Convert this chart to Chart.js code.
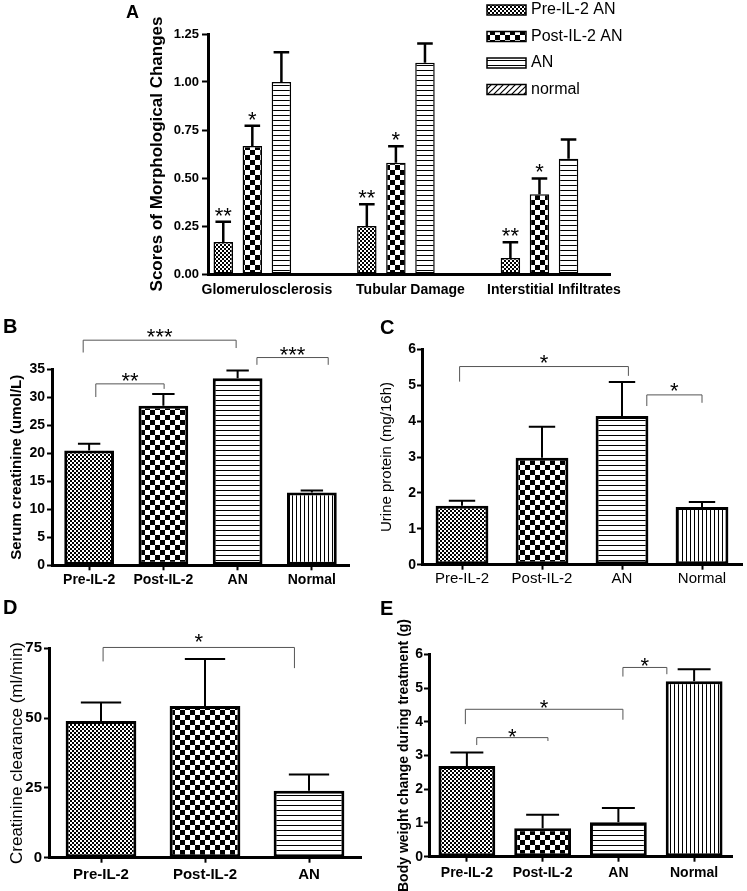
<!DOCTYPE html>
<html>
<head>
<meta charset="utf-8">
<title>IL-2 treatment in adriamycin nephropathy</title>
<script src="https://cdn.jsdelivr.net/npm/chart.js@4.4.1/dist/chart.umd.min.js"></script>
<style>
  html, body { margin: 0; padding: 0; background: #fff; }
  #figure { position: relative; width: 747px; height: 891px; overflow: hidden; }
  #figure canvas { position: absolute; }
  .panel-letter { position: absolute; font: bold 20px 'Liberation Sans', Arial, sans-serif; line-height: 20px; color: #000; }
</style>
</head>
<body>
<div id="figure">
  <canvas id="chartA" width="540" height="305" style="left:120px;top:0"></canvas>
  <canvas id="chartB" width="370" height="300" style="left:0;top:310px"></canvas>
  <canvas id="chartC" width="377" height="300" style="left:370px;top:310px"></canvas>
  <canvas id="chartD" width="370" height="281" style="left:0;top:610px"></canvas>
  <canvas id="chartE" width="377" height="281" style="left:370px;top:610px"></canvas>
  <div class="panel-letter" style="left:126px;top:2px;font-size:18px">A</div>
  <div class="panel-letter" style="left:3px;top:316px">B</div>
  <div class="panel-letter" style="left:380px;top:317px">C</div>
  <div class="panel-letter" style="left:3px;top:597px">D</div>
  <div class="panel-letter" style="left:380px;top:598px">E</div>
</div>
<script>
// ---------- data ----------
// A: morphological scores
const morphGroups = ['Glomerulosclerosis', 'Tubular Damage', 'Interstitial Infiltrates'];
const morphSeries = ['Pre-IL-2 AN', 'Post-IL-2 AN', 'AN', 'normal'];
const morphPre = [0.167, 0.25, 0.083];
const morphPreErr = [0.105, 0.113, 0.082];
const morphPost = [0.667, 0.58, 0.415];
const morphPostErr = [0.105, 0.085, 0.083];
const morphAN = [1.0, 1.1, 0.6];
const morphANErr = [0.155, 0.1, 0.1];
const morphNormal = [0, 0, 0];
const morphPreStars = ['**', '**', '**'];
const morphPostStars = ['*', '*', '*'];

// B-E categories
const groups4 = ['Pre-IL-2', 'Post-IL-2', 'AN', 'Normal'];
const groups3 = ['Pre-IL-2', 'Post-IL-2', 'AN'];

// significance brackets: [from, to, top, left leg end, right leg end, label]
const creatinine = [20.5, 28.5, 33.4, 13.0];
const creatinineErr = [1.2, 2.1, 1.4, 0.35];
const creatinineSig = [
  [-0.08, 1.98, 40.2, 38.0, 38.8, '***'],
  [0.09, 1.01, 32.4, 30.05, 31.5, '**'],
  [2.26, 3.22, 37.1, 35.8, 35.8, '***'],
];

const urineProtein = [1.64, 2.98, 4.14, 1.61];
const urineProteinErr = [0.14, 0.86, 0.95, 0.14];
const urineProteinSig = [
  [-0.03, 2.08, 5.52, 5.10, 5.26, '*'],
  [2.31, 3.0, 4.73, 4.42, 4.51, '*'],
];

const clearance = [49.0, 54.3, 24.0];
const clearanceErr = [6.6, 16.9, 5.8];
const clearanceSig = [
  [0.02, 1.86, 75.3, 70.3, 67.9, '*'],
];

const weightChange = [2.69, 0.84, 1.02, 5.20];
const weightChangeErr = [0.40, 0.40, 0.42, 0.36];
const weightChangeSig = [
  [2.06, 2.64, 5.61, 5.34, 5.41, '*'],
  [-0.02, 2.06, 4.37, 3.93, 4.06, '*'],
  [0.13, 1.07, 3.53, 3.31, 3.43, '*'],
];

// ---------- fills ----------
function makePattern(w, h, draw) {
  const c = document.createElement('canvas');
  c.width = w;
  c.height = h;
  const g = c.getContext('2d');
  g.fillStyle = '#fff';
  g.fillRect(0, 0, w, h);
  g.fillStyle = '#000';
  g.strokeStyle = '#000';
  draw(g);
  return g.createPattern(c, 'repeat');
}

const finePattern = makePattern(4, 4, g => { g.fillRect(0, 0, 2, 2); g.fillRect(2, 2, 2, 2); });
const checkPattern = makePattern(10, 10, g => { g.fillRect(0, 0, 5, 5); g.fillRect(5, 5, 5, 5); });
const hLinePattern = makePattern(4, 5, g => { g.fillRect(0, 0, 4, 1); });
const vLinePattern = makePattern(4, 4, g => { g.fillRect(0, 0, 1, 4); });
const diagPattern = makePattern(6, 6, g => {
  g.lineWidth = 1.2;
  g.beginPath();
  g.moveTo(0, 6); g.lineTo(6, 0);
  g.moveTo(-3, 3); g.lineTo(3, -3);
  g.moveTo(3, 9); g.lineTo(9, 3);
  g.stroke();
});
const groupPatterns = [finePattern, checkPattern, hLinePattern, vLinePattern];

Chart.defaults.font.family = "'Liberation Sans', Arial, sans-serif";
Chart.defaults.color = '#000';

// ---------- plugins ----------
const errorBars = {
  id: 'errorBars',
  afterDatasetsDraw(chart, args, opts) {
    const ctx = chart.ctx;
    const yScale = chart.scales.y;
    chart.data.datasets.forEach((ds, di) => {
      if (!ds.errors) return;
      const meta = chart.getDatasetMeta(di);
      meta.data.forEach((bar, i) => {
        const raw = ds.data[i];
        const val = (raw && typeof raw === 'object') ? raw.y : raw;
        const top = yScale.getPixelForValue(val + ds.errors[i]);
        const half = bar.width * opts.capRatio / 2;
        ctx.save();
        ctx.strokeStyle = '#000';
        ctx.lineWidth = opts.lineWidth;
        ctx.beginPath();
        ctx.moveTo(bar.x, bar.y);
        ctx.lineTo(bar.x, top);
        ctx.moveTo(bar.x - half, top);
        ctx.lineTo(bar.x + half, top);
        ctx.stroke();
        if (ds.stars && ds.stars[i]) {
          ctx.fillStyle = '#000';
          ctx.font = opts.starFont;
          ctx.textAlign = 'center';
          ctx.textBaseline = 'alphabetic';
          ctx.fillText(ds.stars[i], bar.x, top + opts.starShift);
        }
        ctx.restore();
      });
    });
  }
};

const brackets = {
  id: 'brackets',
  afterDraw(chart, args, opts) {
    const {ctx, scales: {x, y}} = chart;
    (opts.items || []).forEach(([from, to, top, leftEnd, rightEnd, text]) => {
      const x1 = x.getPixelForValue(from);
      const x2 = x.getPixelForValue(to);
      const yt = y.getPixelForValue(top);
      ctx.save();
      ctx.strokeStyle = '#555';
      ctx.lineWidth = 1;
      ctx.beginPath();
      ctx.moveTo(x1, y.getPixelForValue(leftEnd));
      ctx.lineTo(x1, yt);
      ctx.lineTo(x2, yt);
      ctx.lineTo(x2, y.getPixelForValue(rightEnd));
      ctx.stroke();
      ctx.fillStyle = '#000';
      ctx.font = opts.font;
      ctx.textAlign = 'center';
      ctx.textBaseline = 'alphabetic';
      ctx.fillText(text, (x1 + x2) / 2, yt + opts.textShift);
      ctx.restore();
    });
  }
};

const patternLegend = {
  id: 'patternLegend',
  afterDraw(chart, args, opts) {
    const ctx = chart.ctx;
    ctx.save();
    ctx.font = opts.font;
    ctx.textBaseline = 'middle';
    chart.data.datasets.forEach((ds, i) => {
      const cy = opts.top + i * opts.rowGap;
      ctx.fillStyle = ds.backgroundColor;
      ctx.fillRect(opts.left, cy - opts.boxH / 2, opts.boxW, opts.boxH);
      ctx.strokeStyle = '#000';
      ctx.lineWidth = 1.5;
      ctx.strokeRect(opts.left, cy - opts.boxH / 2, opts.boxW, opts.boxH);
      ctx.fillStyle = '#000';
      ctx.fillText(ds.label, opts.left + opts.boxW + opts.gap, cy);
    });
    ctx.restore();
  }
};

// ---------- panel A ----------
const toPoints = vals => vals.map((v, i) => ({x: i, y: v}));
const morphValues = [morphPre, morphPost, morphAN, morphNormal];
const morphErrors = [morphPreErr, morphPostErr, morphANErr, null];
const morphStars = [morphPreStars, morphPostStars, null, null];
const morphFills = [finePattern, checkPattern, hLinePattern, diagPattern];

const canvasA = document.getElementById('chartA');
new Chart(canvasA, {
  type: 'bar',
  data: {
    datasets: morphSeries.map((name, k) => ({
      label: name,
      data: toPoints(morphValues[k]),
      errors: morphErrors[k],
      stars: morphStars[k],
      backgroundColor: morphFills[k],
      borderColor: '#000',
      borderWidth: 1.5,
      borderSkipped: false,
      categoryPercentage: 0.81,
      barPercentage: 0.67,
    }))
  },
  options: {
    responsive: false,
    animation: false,
    layout: { padding: { left: 0, top: 34, right: canvasA.width - 490, bottom: 0 } },
    scales: {
      x: {
        type: 'linear',
        min: -0.41,
        max: 2.39,
        offset: false,
        afterBuildTicks: s => { s.ticks = morphGroups.map((_, i) => ({value: i})); },
        afterFit: s => { s.height = canvasA.height - 274; },
        border: { color: '#000', width: 3 },
        grid: { display: true, drawOnChartArea: false, drawTicks: false },
        ticks: {
          autoSkip: false, maxRotation: 0, padding: 8,
          font: { size: 14, weight: 'bold' },
          callback: v => morphGroups[v]
        }
      },
      y: {
        min: 0,
        max: 1.25,
        afterFit: s => { s.width = 88; },
        border: { color: '#000', width: 3 },
        grid: { drawOnChartArea: false, tickLength: 6, tickWidth: 2, tickColor: '#000' },
        ticks: { stepSize: 0.25, padding: 3, font: { size: 13, weight: 'bold' }, callback: v => v.toFixed(2) },
        title: {
          display: true, text: 'Scores of Morphological Changes',
          font: { size: 17, weight: 'bold' }, padding: { top: 27, bottom: 0 }
        }
      }
    },
    plugins: {
      legend: { display: false },
      tooltip: { enabled: false },
      errorBars: { lineWidth: 2.5, capRatio: 0.8, starFont: '22px "Liberation Sans", Arial, sans-serif', starShift: 1 },
      patternLegend: { left: 367, top: 10, rowGap: 26.5, boxW: 39, boxH: 10, gap: 5, font: '16px "Liberation Sans", Arial, sans-serif' }
    }
  },
  plugins: [errorBars, patternLegend]
});

// ---------- panels B-E ----------
function groupChart(id, cfg) {
  const canvas = document.getElementById(id);
  return new Chart(canvas, {
    type: 'bar',
    data: {
      labels: cfg.labels,
      datasets: [{
        data: cfg.values,
        errors: cfg.errors,
        backgroundColor: cfg.labels.map((_, i) => groupPatterns[i]),
        borderColor: '#000',
        borderWidth: 3,
        borderSkipped: false,
        categoryPercentage: 1,
        barPercentage: cfg.barPct,
      }]
    },
    options: {
      responsive: false,
      animation: false,
      layout: { padding: { left: 0, top: cfg.area.top, right: canvas.width - cfg.area.right, bottom: 0 } },
      scales: {
        x: {
          afterFit: s => { s.height = canvas.height - cfg.area.bottom; },
          border: { color: '#000', width: 3 },
          grid: { offset: false, drawOnChartArea: false, tickLength: 5, tickWidth: 2, tickColor: '#000' },
          ticks: { autoSkip: false, maxRotation: 0, padding: cfg.xPad, font: cfg.xFont }
        },
        y: {
          min: 0,
          max: cfg.max,
          afterFit: s => { s.width = cfg.area.left; },
          border: { color: '#000', width: 3 },
          grid: { drawOnChartArea: false, tickLength: 5, tickWidth: 2, tickColor: '#000' },
          ticks: { stepSize: cfg.step, padding: cfg.yPad, font: cfg.yFont },
          title: { display: true, text: cfg.title, font: cfg.titleFont, padding: { top: cfg.titlePad, bottom: 0 } }
        }
      },
      plugins: {
        legend: { display: false },
        tooltip: { enabled: false },
        errorBars: { lineWidth: 2, capRatio: cfg.capRatio },
        brackets: { items: cfg.brackets, font: '22px "Liberation Sans", Arial, sans-serif', textShift: cfg.starShift }
      }
    },
    plugins: [errorBars, brackets]
  });
}

groupChart('chartB', {
  labels: groups4, values: creatinine, errors: creatinineErr, brackets: creatinineSig,
  area: { left: 52, top: 59.3, right: 349, bottom: 255.3 },
  max: 35, step: 5, barPct: 0.67, capRatio: 0.45,
  title: 'Serum creatinine (umol/L)', titleFont: { size: 15, weight: 'bold' }, titlePad: 8,
  xFont: { size: 14, weight: 'bold' }, xPad: 1,
  yFont: { size: 14, weight: 'bold' }, yPad: 2,
  starShift: 4
});

groupChart('chartC', {
  labels: groups4, values: urineProtein, errors: urineProteinErr, brackets: urineProteinSig,
  area: { left: 52, top: 39.3, right: 372, bottom: 254.7 },
  max: 6, step: 1, barPct: 0.66, capRatio: 0.5,
  title: 'Urine protein (mg/16h)', titleFont: { size: 15, weight: 'normal' }, titlePad: 8,
  xFont: { size: 15, weight: 'normal' }, xPad: 0,
  yFont: { size: 14, weight: 'bold' }, yPad: 1,
  starShift: 3
});

groupChart('chartD', {
  labels: groups3, values: clearance, errors: clearanceErr, brackets: clearanceSig,
  area: { left: 49, top: 38.3, right: 361, bottom: 247.7 },
  max: 75, step: 25, barPct: 0.68, capRatio: 0.57,
  title: 'Creatinine clearance (ml/min)', titleFont: { size: 17, weight: 'normal' }, titlePad: 7,
  xFont: { size: 15, weight: 'bold' }, xPad: 3,
  yFont: { size: 15, weight: 'bold' }, yPad: 2,
  starShift: 2
});

groupChart('chartE', {
  labels: groups4, values: weightChange, errors: weightChangeErr, brackets: weightChangeSig,
  area: { left: 59, top: 44.3, right: 362, bottom: 246.7 },
  max: 6, step: 1, barPct: 0.75, capRatio: 0.58,
  title: 'Body weight change during treatment (g)', titleFont: { size: 14, weight: 'bold' }, titlePad: 25.6,
  xFont: { size: 14, weight: 'bold' }, xPad: 3,
  yFont: { size: 14, weight: 'bold' }, yPad: 1,
  starShift: 6
});
</script>
</body>
</html>
